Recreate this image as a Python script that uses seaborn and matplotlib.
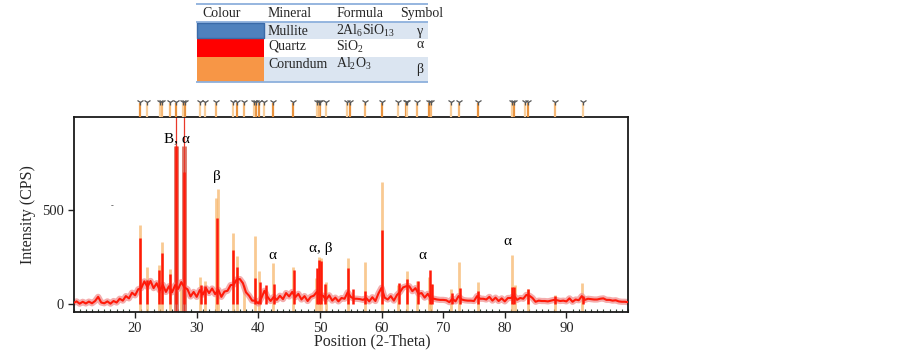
import numpy as np
import pandas as pd
import matplotlib
matplotlib.use("Agg")
import matplotlib.pyplot as plt
from matplotlib.ticker import MultipleLocator
import seaborn as sns

# MEASURED PATTERN (background trace, read every 0.5 deg 2-theta from 10 to 100)
two_theta = np.arange(10, 100.01, 0.5)
background = [
    8, 16, 4, 14, 5, 15, 6, 18, 40, 10, 6, 16, 4, 18, 10, 30, 20, 44, 32, 62,
    48, 80, 86, 122, 92, 124, 86, 112, 74, 104, 66, 96, 64, 102, 82, 118, 90, 80, 42, 66,
    40, 76, 52, 86, 60, 84, 54, 78, 40, 68, 72, 102, 104, 132, 134, 112, 64, 46, 20, 20,
    5, 34, 72, 40, 18, 40, 24, 46, 28, 60, 42, 66, 38, 56, 26, 44, 18, 40, 46, 66,
    50, 46, 26, 48, 20, 36, 16, 34, 30, 64, 40, 30, 30, 28, 24, 34, 16, 38, 18, 58,
    88, 36, 26, 44, 20, 50, 66, 90, 96, 96, 70, 86, 56, 60, 36, 56, 30, 30, 26, 24,
    24, 22, 12, 30, 16, 44, 26, 22, 20, 20, 18, 44, 30, 30, 26, 40, 20, 36, 18, 32,
    16, 34, 34, 46, 24, 34, 30, 50, 46, 34, 14, 20, 18, 18, 16, 20, 24, 22, 18, 20,
    16, 32, 14, 26, 22, 44, 24, 30, 28, 26, 26, 30, 32, 24, 24, 20, 22, 16, 14, 14,
    12,
]

# measured peaks
peak_pos = [20.86, 22.0, 23.9, 24.3, 25.7, 26.64, 27.95, 30.7, 31.4, 33.3,
            35.9, 36.6, 39.5, 40.3, 41.2, 42.5, 45.8, 49.5, 49.9, 50.2,
            50.9, 54.6, 55.3, 57.3, 60.0, 62.8, 64.1, 65.9, 67.8, 68.2,
            71.4, 72.8, 75.7, 81.2, 81.5, 83.8, 88.1, 92.7]
peak_int = [350, 130, 182, 272, 160, 835, 700, 100, 95, 458,
            288, 200, 140, 120, 100, 110, 180, 190, 235, 230,
            110, 192, 80, 70, 394, 115, 135, 125, 180, 110,
            60, 86, 73, 90, 93, 81, 45, 45]

# reference sticks
ref_pos = [20.86, 22.0, 23.9, 24.3, 25.6, 27.5, 30.6, 31.4, 33.2, 33.4,
           35.9, 36.5, 37.6, 39.4, 40.1, 42.4, 45.7, 49.4, 49.9, 50.1,
           51.0, 54.6, 57.3, 60.0, 62.6, 64.1, 65.8, 67.7, 68.0, 71.2,
           72.6, 75.6, 81.1, 81.6, 83.7, 88.2, 92.6]
ref_int = [420, 200, 208, 332, 187, 120, 146, 124, 560, 610,
           378, 256, 100, 364, 178, 218, 196, 140, 250, 245,
           120, 247, 222, 645, 100, 176, 125, 146, 110, 80,
           222, 117, 261, 100, 81, 50, 115]
quartz_pos = [26.64, 27.95]
quartz_int = [835, 835]

# reference marks above the plot
strip_pos = [20.8, 22.0, 24.0, 24.3, 25.6, 26.6, 27.8, 28.1, 30.5, 31.3,
             33.2, 35.9, 36.5, 37.6, 39.3, 39.6, 40.1, 40.9, 42.3, 45.7,
             49.5, 49.8, 50.0, 51.0, 54.4, 54.8, 57.3, 60.0, 62.6, 63.9,
             64.2, 65.8, 67.7, 68.0, 71.2, 72.6, 75.6, 81.2, 81.5, 83.3,
             83.7, 88.1, 92.7]
strip_phase = ["Q", "M", "M", "C", "C", "Q", "M", "Q", "M", "M",
               "C", "M", "Q", "C", "M", "Q", "Q", "M", "Q", "Q",
               "M", "C", "Q", "M", "M", "Q", "C", "Q", "M", "Q",
               "M", "C", "Q", "C", "M", "C", "Q", "M", "Q", "M",
               "Q", "C", "M"]

# peak labels
label_text = ["B, α", "β", "α", "α, β", "α", "α"]
label_x = [26.8, 33.3, 42.3, 50.1, 66.6, 80.5]
label_y = [876, 675, 261, 293, 256, 335]

# legend table
minerals = ["Mullite", "Quartz", "Corundum"]
formulas = ["2Al$_6$SiO$_{13}$", "SiO$_2$", "Al$_2$O$_3$"]
symbols = ["γ", "α", "β"]
header = ["Colour", "Mineral", "Formula", "Symbol"]

sns.set_theme(style="white")
plt.rcParams["font.family"] = ["Liberation Serif", "DejaVu Serif"]
plt.rcParams["mathtext.fontset"] = "custom"
plt.rcParams["mathtext.rm"] = "Liberation Serif"
plt.rcParams["mathtext.it"] = "Liberation Serif:italic"

swatch_colors = ["#4f81bd", "#ff0000", "#f79646"]
phase_colors = {"Q": "#e8923e", "C": "#f6b876", "M": "#f9cf9c"}

fig = plt.figure(figsize=(9.02, 3.57), dpi=100)
ax = fig.add_axes([73.5 / 902, 45 / 357, 554.5 / 902, 195 / 357])

# reference sticks behind the pattern
ax.vlines(ref_pos, -40, ref_int, color="#f7b86e", lw=2, alpha=0.75, zorder=1)
ax.vlines(quartz_pos, -40, quartz_int, color="#d66a5a", lw=3.5, alpha=0.9, zorder=1)
ax.vlines(quartz_pos, 0, 1, transform=ax.get_xaxis_transform(),
          color="#e8382a", lw=0.9, zorder=1)

# measured pattern
df = pd.DataFrame({"theta": two_theta, "cps": background})
sns.lineplot(data=df, x="theta", y="cps", ax=ax, color="#f08a8a", lw=4.5,
             alpha=0.7, zorder=2)
sns.lineplot(data=df, x="theta", y="cps", ax=ax, color="#ff1a0a", lw=1.5, zorder=3)
ax.vlines(peak_pos, 0, peak_int, color="#ff1a0a", lw=1.8, zorder=3)

for t, x, y in zip(label_text, label_x, label_y):
    ax.text(x, y, t, ha="center", va="center", fontsize=11, color="black")
ax.text(16.2, 520, "-", ha="center", va="center", fontsize=6, color="#333333")

ax.set_xlim(10, 100)
ax.set_ylim(-40, 990)
ax.set_xticks(range(20, 100, 10))
ax.set_yticks([0, 500])
ax.xaxis.set_minor_locator(MultipleLocator(1))
ax.tick_params(axis="both", which="major", direction="out", length=4, width=1,
               labelsize=10.5, pad=3, color="#222222", bottom=True, left=True)
ax.tick_params(axis="x", which="minor", direction="in", length=2, width=0.8,
               bottom=True, color="#334433")
for s in ax.spines.values():
    s.set_color("#1a1a1a")
    s.set_linewidth(1.3)
ax.set_xlabel("Position (2-Theta)", fontsize=11.5)
ax.set_ylabel("Intensity (CPS)", fontsize=11.5, labelpad=4)
ax.xaxis.set_label_coords(0.539, -0.11)

# reference marks strip
ax_s = fig.add_axes([73.5 / 902, 240 / 357, 554.5 / 902, 18 / 357], sharex=ax)
ax_s.set_ylim(0, 1)
ax_s.axis("off")
for ph, col in phase_colors.items():
    pos = [p for p, q in zip(strip_pos, strip_phase) if q == ph]
    ax_s.vlines(pos, 0, 0.75, color=col, lw=1.6)
ax_s.plot(strip_pos, [0.82] * len(strip_pos), ls="none", marker="1",
          ms=5, mew=0.9, color="#555555")

# legend table
ax_t = fig.add_axes([196 / 902, 1 - 83 / 357, 232 / 902, 80 / 357])
ax_t.set_xlim(196, 428)
ax_t.set_ylim(83, 3)
ax_t.axis("off")
row_top = [22, 38.5, 57]
row_bot = [38.5, 57, 81.5]
text_y = [31, 46.5, 64]
sym_y = [31, 45, 70]
for i in range(3):
    if i != 1:
        ax_t.fill_between([264, 428], row_top[i], row_bot[i], color="#dbe5f1", lw=0)
    ax_t.fill_between([197, 264], row_top[i], row_bot[i], color=swatch_colors[i], lw=0)
    ax_t.text(268, text_y[i], minerals[i], fontsize=10, va="center", ha="left")
    ax_t.text(336.5, text_y[i], formulas[i], fontsize=10, va="center", ha="left")
    ax_t.text(420, sym_y[i], symbols[i], fontsize=10, va="center", ha="center")
ax_t.plot([197, 264, 264, 197, 197], [22.5, 22.5, 38, 38, 22.5], color="#3a6aa8", lw=1)
for hx, h in zip([202.5, 268, 336.5, 400.5], header):
    ax_t.text(hx, 13, h, fontsize=10, va="center", ha="left")
for ly in [4, 21.7, 81.5]:
    ax_t.plot([196, 428], [ly, ly], color="#8db0dc", lw=1.3)

fig.savefig("out.png", dpi=100)
